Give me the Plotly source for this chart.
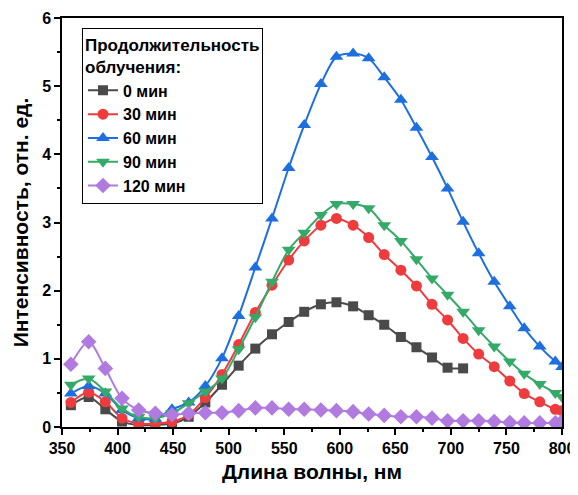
import plotly.graph_objects as go

wavelength = [358, 374, 389, 404, 419, 434, 449, 464, 479, 494, 509, 524, 539, 554, 568, 583,
              597, 612, 626, 640, 655, 669, 683, 697, 711, 725, 739, 753, 766, 780, 794, 800]

i_0 = [0.32, 0.44, 0.26, 0.08, 0.03, 0.03, 0.05, 0.15, 0.36, 0.62, 0.90, 1.15, 1.36, 1.54,
       1.69, 1.80, 1.83, 1.77, 1.64, 1.50, 1.32, 1.17, 1.02, 0.87, 0.86]
i_30 = [0.36, 0.51, 0.37, 0.13, 0.05, 0.05, 0.08, 0.18, 0.43, 0.77, 1.21, 1.68, 2.08, 2.45,
        2.73, 2.96, 3.06, 2.96, 2.78, 2.53, 2.30, 2.07, 1.80, 1.57, 1.30, 1.07, 0.885, 0.675,
        0.49, 0.37, 0.26, 0.24]
i_60 = [0.49, 0.60, 0.49, 0.25, 0.13, 0.12, 0.26, 0.36, 0.60, 1.01, 1.63, 2.34, 3.06, 3.80,
        4.43, 5.03, 5.43, 5.48, 5.41, 5.13, 4.80, 4.39, 3.96, 3.50, 3.01, 2.55, 2.13, 1.77,
        1.45, 1.18, 0.96, 0.88]
i_90 = [0.62, 0.71, 0.52, 0.27, 0.15, 0.13, 0.20, 0.35, 0.52, 0.71, 1.14, 1.61, 2.13, 2.60,
        2.85, 3.11, 3.27, 3.27, 3.21, 2.96, 2.73, 2.46, 2.18, 1.94, 1.69, 1.42, 1.18, 0.96,
        0.78, 0.63, 0.50, 0.44]
i_120 = [0.92, 1.25, 0.86, 0.42, 0.25, 0.20, 0.18, 0.20, 0.21, 0.21, 0.24, 0.28, 0.28, 0.26,
         0.26, 0.25, 0.24, 0.225, 0.19, 0.17, 0.15, 0.15, 0.13, 0.09, 0.09, 0.09, 0.08, 0.065,
         0.06, 0.06, 0.06, 0.08]

series_names = ["0 мин", "30 мин", "60 мин", "90 мин", "120 мин"]
series_values = [i_0, i_30, i_60, i_90, i_120]
colors = ["#4a4a4a", "#ee3b3e", "#1d6fe0", "#35aa68", "#b07ae0"]
symbols = ["square", "circle", "triangle-up", "triangle-down", "diamond"]
sizes = [10, 11, 12, 12, 12]

FONT = "Liberation Sans, Arial, sans-serif"

fig = go.Figure()
for name, vals, c, s, sz in zip(series_names, series_values, colors, symbols, sizes):
    fig.add_trace(go.Scatter(
        x=wavelength[:len(vals)], y=vals, name=name, mode="lines+markers",
        line=dict(color=c, width=2, shape="spline", smoothing=0.8),
        marker=dict(symbol=s, size=sz, color=c),
    ))

axis_common = dict(
    showline=True, linecolor="black", linewidth=1.5, mirror=True,
    ticks="outside", ticklen=6, tickwidth=1.5, tickcolor="black",
    showgrid=False, zeroline=False,
    tickfont=dict(family=FONT, size=16, color="black", weight="bold"),
)

fig.update_xaxes(
    range=[350, 800], dtick=50, tick0=350,
    minor=dict(dtick=25, ticks="outside", ticklen=3, tickwidth=1.5, tickcolor="black"),
    title=dict(text="Длина волны, нм", font=dict(family=FONT, size=21, color="black", weight="bold"), standoff=8),
    **axis_common,
)
fig.update_yaxes(
    range=[0, 6], dtick=1,
    minor=dict(dtick=0.5, ticks="outside", ticklen=3, tickwidth=1.5, tickcolor="black"),
    title=dict(text="Интенсивность, отн. ед.", font=dict(family=FONT, size=21, color="black", weight="bold"), standoff=8),
    **axis_common,
)

fig.update_layout(
    width=570, height=487,
    margin=dict(l=54, r=16, t=10, b=68, autoexpand=False),
    plot_bgcolor="white", paper_bgcolor="white",
    legend=dict(
        x=0.04, y=0.975, xanchor="left", yanchor="top",
        bordercolor="black", borderwidth=1, bgcolor="white",
        font=dict(family=FONT, size=16, color="black", weight="bold"),
        title=dict(text="Продолжительность<br>облучения:", font=dict(family=FONT, size=17, color="black", weight="bold")),
        tracegroupgap=0, itemwidth=30,
    ),
)

fig.write_html("out.html")
